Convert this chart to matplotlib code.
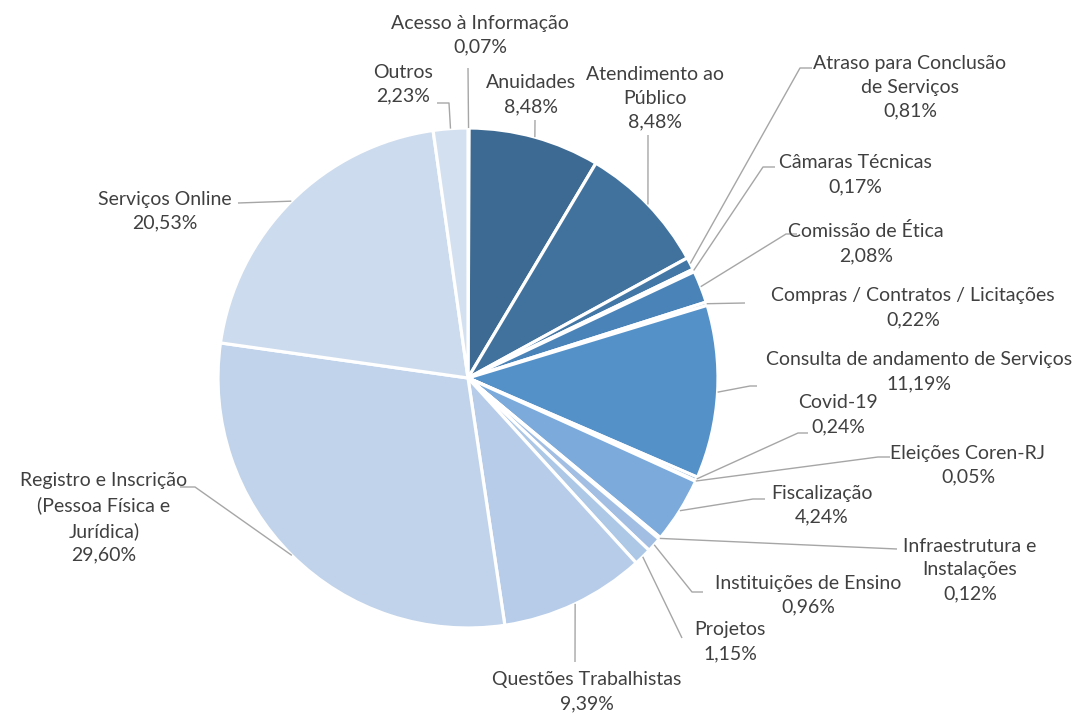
import matplotlib
matplotlib.use('Agg')
import matplotlib.pyplot as plt
import numpy as np

plt.rcParams['font.family'] = ['Lato', 'DejaVu Sans']

# dados (% por assunto), sentido horario a partir do topo
categorias = ['Acesso à Informação', 'Anuidades', 'Atendimento ao\nPúblico',
              'Atraso para Conclusão\nde Serviços', 'Câmaras Técnicas',
              'Comissão de Ética', 'Compras / Contratos / Licitações',
              'Consulta de andamento de Serviços', 'Covid-19',
              'Eleições Coren-RJ', 'Fiscalização', 'Infraestrutura e\nInstalações',
              'Instituições de Ensino', 'Projetos', 'Questões Trabalhistas',
              'Registro e Inscrição\n(Pessoa Física e\nJurídica)',
              'Serviços Online', 'Outros']
valores = [0.07, 8.48, 8.48, 0.81, 0.17, 2.08, 0.22, 11.19, 0.24, 0.05,
           4.24, 0.12, 0.96, 1.15, 9.39, 29.60, 20.53, 2.23]
cores = ['#3a6389', '#3d6a92', '#41729e', '#4377a6', '#467cad', '#4a83b8',
         '#4e89c0', '#5591c9', '#5f98cf', '#6a9fd3', '#7baadb', '#8fb5e0',
         '#a2bfe3', '#adc8e6', '#b6cce8', '#c0d3ea', '#ccdbed', '#d3e0f0']

# posicao dos rotulos (px) e pontos do conector do lado do rotulo
rotulos = [
    ((480, 35), [(468, 68)]),
    ((531, 95), [(535, 120)]),
    ((655, 98), [(648, 135)]),
    ((910, 87), [(812, 68), (800, 68)]),
    ((855, 175), [(775, 167), (763, 167)]),
    ((866, 243), [(797, 234), (786, 234)]),
    ((913, 308), [(745, 303)]),
    ((919, 372), [(757, 386), (750, 386)]),
    ((838, 415), [(808, 433), (798, 433)]),
    ((968, 465), [(890, 457), (878, 457)]),
    ((822, 505), [(765, 499), (753, 499)]),
    ((970, 570), [(897, 549)]),
    ((808, 595), [(703, 592), (692, 592)]),
    ((730, 642), [(682, 638)]),
    ((587, 692), [(575, 662)]),
    ((104, 518), [(180, 487), (195, 487)]),
    ((165, 211), [(238, 203)]),
    ((403, 84), [(437, 103), (449, 103)]),
]

W, H = 1079, 714
cx, cy, raio = 468, 378, 250

fig = plt.figure(figsize=(W / 100, H / 100), dpi=100)
ax = fig.add_axes([0, 0, 1, 1])
fatias, _ = ax.pie(valores, colors=cores, startangle=90, counterclock=False,
                   center=(cx, H - cy), radius=raio,
                   wedgeprops=dict(edgecolor='white', linewidth=2.3))
ax.set_xlim(0, W)
ax.set_ylim(0, H)
ax.set_aspect('equal')
ax.axis('off')

for fatia, cat, val, (pos, pontos) in zip(fatias, categorias, valores, rotulos):
    ang = np.deg2rad((fatia.theta1 + fatia.theta2) / 2)
    ax_x = cx + raio * np.cos(ang)
    ax_y = (H - cy) + raio * np.sin(ang)
    xs = [p[0] for p in pontos] + [ax_x]
    ys = [H - p[1] for p in pontos] + [ax_y]
    ax.plot(xs, ys, color='#a6a6a6', linewidth=1.0, solid_capstyle='butt')
    texto = cat + '\n' + ('%.2f%%' % val).replace('.', ',')
    ax.text(pos[0], H - pos[1], texto, ha='center', va='center',
            fontsize=14, color='#404040', linespacing=1.5)

fig.savefig('out.png', dpi=100)
